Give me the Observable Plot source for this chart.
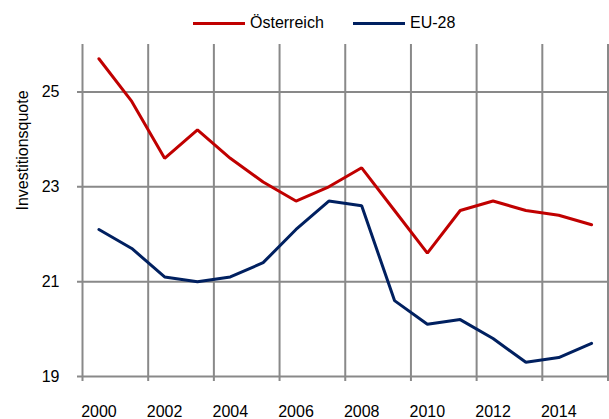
<!DOCTYPE html>
<html><head><meta charset="utf-8">
<script src="https://cdn.jsdelivr.net/npm/d3@7"></script>
<script src="https://cdn.jsdelivr.net/npm/@observablehq/plot@0.6"></script>
<style>
body{margin:0;background:#fff;font-family:"Liberation Sans",Arial,sans-serif;}
#legend{position:relative;width:609px;height:36px;font-size:16px;color:#000;}
.item{position:absolute;top:14px;display:flex;align-items:center;height:18px;line-height:18px;white-space:nowrap;}
.sw{display:inline-block;width:52px;height:3px;margin-right:5px;}
</style></head><body>
<div id="legend"></div>
<div id="chart"></div>
<script>
const years = [2000,2001,2002,2003,2004,2005,2006,2007,2008,2009,2010,2011,2012,2013,2014,2015];
const oesterreich = [25.7,24.8,23.6,24.2,23.6,23.1,22.7,23.0,23.4,22.5,21.6,22.5,22.7,22.5,22.4,22.2];
const eu28 = [22.1,21.7,21.1,21.0,21.1,21.4,22.1,22.7,22.6,20.6,20.1,20.2,19.8,19.3,19.4,19.7];
const seriesNames = ["Österreich","EU-28"];
const seriesColors = ["#C00000","#002060"];
const yTicks = [19,21,23,25];
const xTickLabels = [2000,2002,2004,2006,2008,2010,2012,2014];
const yLabel = "Investitionsquote";

const data = [
  ...years.map((yr,i)=>({year:yr, value:oesterreich[i], series:seriesNames[0]})),
  ...years.map((yr,i)=>({year:yr, value:eu28[i], series:seriesNames[1]}))
];
// category boundaries every two years (Excel-style category axis)
const boundaries = d3.range(years[0]-0.5, years[years.length-1]+1, 2);

// legend
const legend = document.getElementById("legend");
const legendLefts = [193, 353];
seriesNames.forEach((n,i)=>{
  const it = document.createElement("div");
  it.className = "item";
  it.style.left = legendLefts[i] + "px";
  const sw = document.createElement("span");
  sw.className = "sw";
  sw.style.background = seriesColors[i];
  const t = document.createElement("span");
  t.textContent = n;
  it.appendChild(sw); it.appendChild(t);
  legend.appendChild(it);
});

const grid = "#898989";
const chart = Plot.plot({
  width: 609,
  height: 383,
  marginTop: 8,
  marginBottom: 43,
  marginLeft: 82,
  marginRight: 1.5,
  style: {fontFamily: "'Liberation Sans', Arial, sans-serif", fontSize: "16px", color: "#000", background: "#fff"},
  x: {domain: [years[0]-0.5, years[years.length-1]+0.5]},
  y: {domain: [19, 26]},
  color: {domain: seriesNames, range: seriesColors},
  marks: [
    Plot.ruleY(yTicks, {stroke: grid, strokeWidth: 2, insetLeft: -5}),
    Plot.ruleX(boundaries, {stroke: grid, strokeWidth: 2, insetBottom: -5}),
    Plot.line(data, {x: "year", y: "value", stroke: "series", strokeWidth: 3, strokeLinejoin: "miter"}),
    Plot.axisX(xTickLabels, {tickSize: 0, tickPadding: 29, tickFormat: d => String(d), label: null}),
    Plot.axisY(yTicks, {tickSize: 0, tickPadding: 23, label: null}),
    Plot.text([yLabel], {frameAnchor: "left", rotate: -90, dx: -60, fontSize: 16, fill: "#000"})
  ]
});
document.getElementById("chart").appendChild(chart);
</script>
</body></html>
